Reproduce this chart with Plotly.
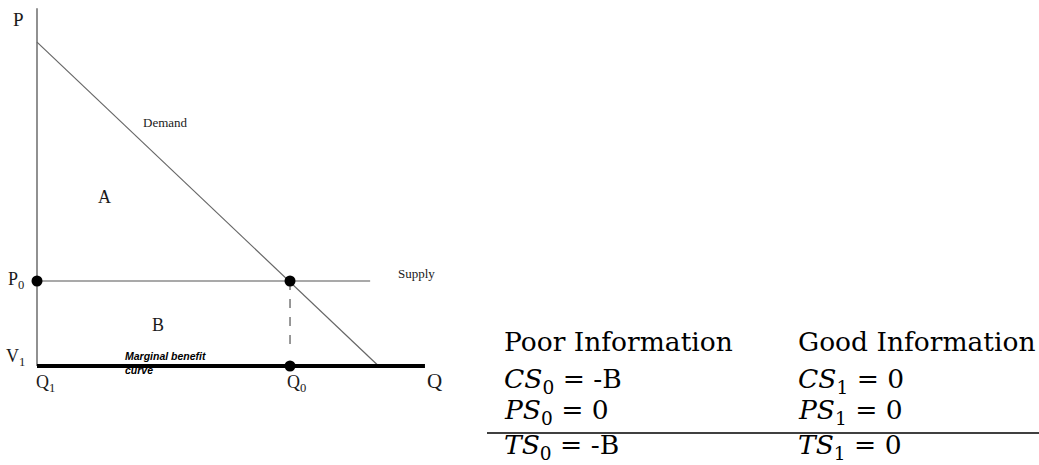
import plotly.graph_objects as go

# ---- economic diagram data (Q units, P units) ----
q_axis_end = 9.2
p_axis_top = 8.42
demand_q = [0.0, 8.1]
demand_p = [7.62, 0.0]
supply_q = [0.0, 7.9]
supply_p = [2.0, 2.0]
P0 = 2.0
V1 = 0.0
Q0 = 6.0
Q1 = 0.0
points_q = [Q1, Q0, Q0]
points_p = [P0, P0, V1]
dash_q = [Q0, Q0]
dash_p = [P0, 0.47]

# table text
col_headers = ["Poor Information", "Good Information"]
poor_rows = ["<i>CS</i><sub>0</sub> = -B", "<i>PS</i><sub>0</sub> = 0", "<i>TS</i><sub>0</sub> = -B"]
good_rows = ["<i>CS</i><sub>1</sub> = 0", "<i>PS</i><sub>1</sub> = 0", "<i>TS</i><sub>1</sub> = 0"]

W, H = 1039, 465
kx, ky = 42.17, 42.5
ox, oy = 37, 366
xr = [-ox / kx, (W - ox) / kx]
yr = [-(H - oy) / ky, oy / ky]

fig = go.Figure()
axcol = "#555555"
# P axis
fig.add_trace(go.Scatter(x=[0, 0], y=[V1, p_axis_top], mode="lines",
                         line=dict(color=axcol, width=1.3), hoverinfo="skip"))
# demand
fig.add_trace(go.Scatter(x=demand_q, y=demand_p, mode="lines",
                         line=dict(color="#666666", width=1.2), hoverinfo="skip"))
# supply
fig.add_trace(go.Scatter(x=supply_q, y=supply_p, mode="lines",
                         line=dict(color="#555555", width=1.2), hoverinfo="skip"))
# marginal benefit curve (thick)
fig.add_trace(go.Scatter(x=[0, q_axis_end], y=[V1, V1], mode="lines",
                         line=dict(color="black", width=4), hoverinfo="skip"))
# dashed
fig.add_trace(go.Scatter(x=dash_q, y=dash_p, mode="lines",
                         line=dict(color="#555555", width=1.2, dash="dash"), hoverinfo="skip"))
# points
fig.add_trace(go.Scatter(x=points_q, y=points_p, mode="markers",
                         marker=dict(color="black", size=11), hoverinfo="skip"))

serif = "Liberation Serif"

def lab(x, y, text, size, xanchor="center", family=serif, yanchor="middle", color="#1a1a1a"):
    fig.add_annotation(x=x, y=y, text=text, showarrow=False, xanchor=xanchor, yanchor=yanchor,
                       font=dict(family=family, size=size, color=color))

lab(-0.45, 8.15, "P", 19)
lab(3.04, 5.73, "Demand", 13)
lab(1.59, 3.98, "A", 18)
lab(-0.5, 2.02, "P<sub>0</sub>", 18)
lab(2.87, 0.97, "B", 18)
lab(9.0, 2.18, "Supply", 13)
lab(-0.5, 0.19, "V<sub>1</sub>", 18)
lab(0.2, -0.42, "Q<sub>1</sub>", 18)
lab(6.15, -0.42, "Q<sub>0</sub>", 18)
lab(9.43, -0.35, "Q", 21)
fig.add_annotation(x=2.04, y=0.06, text="<b><i>Marginal benefit<br>curve</i></b>", showarrow=False,
                   xanchor="left", yanchor="middle", align="left",
                   font=dict(family="Liberation Sans", size=10.5, color="black"))

# table
tfont = dict(family="DejaVu Serif", size=26.5, color="black")
col_x = [502 / W, 796 / W]
row_y = [341, 380, 411, 446]
for i, t in enumerate(col_headers):
    fig.add_annotation(xref="paper", yref="paper", x=col_x[i], y=1 - row_y[0] / H, text=t,
                       showarrow=False, xanchor="left", yanchor="middle", font=tfont)
for r in range(3):
    for i, rows in enumerate([poor_rows, good_rows]):
        fig.add_annotation(xref="paper", yref="paper", x=col_x[i], y=1 - row_y[r + 1] / H,
                           text=rows[r], showarrow=False, xanchor="left", yanchor="middle", font=tfont)
fig.add_shape(type="line", xref="paper", yref="paper", x0=487 / W, x1=1.0,
              y0=1 - 433 / H, y1=1 - 433 / H, line=dict(color="black", width=1.3))

fig.update_layout(width=W, height=H, margin=dict(l=0, r=0, t=0, b=0),
                  paper_bgcolor="white", plot_bgcolor="white", showlegend=False,
                  xaxis=dict(range=xr, visible=False, fixedrange=True),
                  yaxis=dict(range=yr, visible=False, fixedrange=True))
fig.write_html("out.html", config={"displayModeBar": False},
               post_script="document.body.style.margin='0';document.body.style.overflow='hidden';")
